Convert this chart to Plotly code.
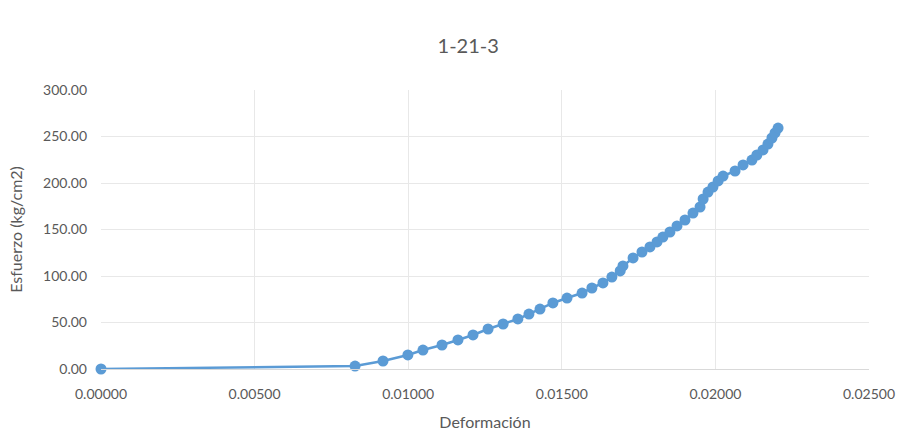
import plotly.graph_objects as go

# Strain (Deformación) and stress (Esfuerzo, kg/cm2) readings for specimen 1-21-3
deformacion = [
    0.00000, 0.00827, 0.00918, 0.00999, 0.01048, 0.01110, 0.01162, 0.01211,
    0.01260, 0.01309, 0.01357, 0.01393, 0.01429, 0.01471, 0.01517, 0.01566,
    0.01598, 0.01634, 0.01663, 0.01690, 0.01699, 0.01732, 0.01761, 0.01787,
    0.01810, 0.01829, 0.01852, 0.01875, 0.01901, 0.01927, 0.01950, 0.01960,
    0.01976, 0.01992, 0.02009, 0.02025, 0.02064, 0.02090, 0.02119, 0.02135,
    0.02155, 0.02171, 0.02184, 0.02194, 0.02204,
]
esfuerzo = [
    0.00, 3.20, 8.60, 15.10, 20.40, 25.80, 31.20, 36.60,
    43.00, 48.40, 53.80, 59.10, 64.50, 71.00, 76.30, 81.70,
    87.10, 92.50, 98.90, 105.40, 110.80, 119.40, 125.80, 131.20,
    136.60, 141.90, 147.30, 153.80, 160.20, 167.70, 174.20, 182.80,
    190.30, 195.70, 202.20, 207.50, 212.90, 219.40, 224.70, 230.10,
    235.50, 241.90, 248.40, 253.80, 259.10,
]

x_ticks = [0.0, 0.005, 0.010, 0.015, 0.020, 0.025]
y_ticks = [0, 50, 100, 150, 200, 250, 300]

blue = "#5b9bd5"
text_gray = "#595959"
grid_gray = "#e8e8e8"
font_family = "Lato, 'Open Sans', sans-serif"

fig = go.Figure(
    go.Scatter(
        x=deformacion,
        y=esfuerzo,
        mode="lines+markers",
        line=dict(color=blue, width=2.5),
        marker=dict(color=blue, size=11, symbol="circle"),
        cliponaxis=False,
        showlegend=False,
    )
)

fig.update_layout(
    width=910,
    height=434,
    margin=dict(l=101, r=41, t=90, b=65, autoexpand=False),
    paper_bgcolor="white",
    plot_bgcolor="white",
    font=dict(family=font_family, color=text_gray, size=14),
    title=dict(
        text="1-21-3",
        x=0.5145,
        xanchor="center",
        y=0.895,
        yanchor="middle",
        font=dict(size=20, color=text_gray, family=font_family),
    ),
)

fig.update_xaxes(
    range=[0, 0.025],
    tickvals=x_ticks,
    tickformat=".5f",
    showgrid=True,
    gridcolor=grid_gray,
    gridwidth=1,
    zeroline=False,
    showline=True,
    linecolor="#d9d9d9",
    ticks="",
    ticklabelstandoff=12,
    automargin=False,
    tickfont=dict(size=14, color=text_gray),
    title=dict(text="Deformación", font=dict(size=16, color=text_gray), standoff=16),
)

fig.update_yaxes(
    range=[0, 300],
    tickvals=y_ticks,
    tickformat=".2f",
    showgrid=True,
    gridcolor=grid_gray,
    gridwidth=1,
    zeroline=False,
    showline=False,
    ticks="",
    ticklabelstandoff=13,
    automargin=False,
    tickfont=dict(size=14, color=text_gray),
    title=dict(text="Esfuerzo (kg/cm2)", font=dict(size=16, color=text_gray), standoff=16),
)

fig.write_html("out.html")
